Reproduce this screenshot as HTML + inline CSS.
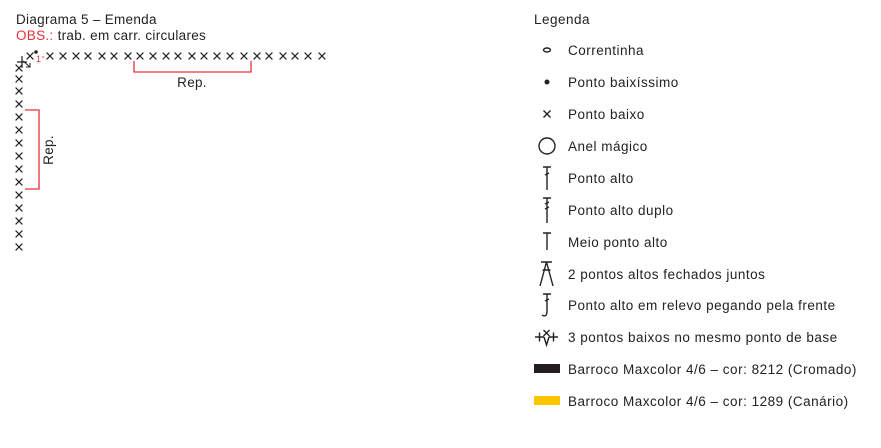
<!DOCTYPE html>
<html><head><meta charset="utf-8"><style>
html,body{margin:0;padding:0;background:#fff;}
svg{display:block;font-family:"Liberation Sans",sans-serif;}
</style></head><body>
<svg width="881" height="448" viewBox="0 0 881 448" xmlns="http://www.w3.org/2000/svg">
<defs>
<g id="x"><path d="M-3.4,-3.4L3.4,3.4M3.4,-3.4L-3.4,3.4" stroke="#222" stroke-width="1.2" fill="none"/></g>
</defs>
<g letter-spacing="0.3">
<text x="16" y="24" font-size="13.5" fill="#222">Diagrama 5 – Emenda</text>
<text x="16" y="40" font-size="13.5" fill="#222"><tspan fill="#e8303a">OBS.:</tspan> trab. em carr. circulares</text>
</g>

<path d="M17,62L27,62M22,56L22,68" stroke="#222" stroke-width="1.2"/>
<path d="M23,61L30,67M30,63L30,67L26,67" stroke="#222" stroke-width="1" fill="none"/>
<use href="#x" x="30" y="56"/>
<circle cx="36" cy="52" r="1.8" fill="#222"/>
<text x="36" y="62" font-size="9" fill="#e8303a">1</text>
<circle cx="43" cy="57" r="1" fill="#f08080"/>

<use href="#x" x="50" y="56"/><use href="#x" x="63" y="56"/><use href="#x" x="76" y="56"/>
<use href="#x" x="88" y="56"/><use href="#x" x="102" y="56"/><use href="#x" x="114" y="56"/>
<use href="#x" x="128" y="56"/><use href="#x" x="140" y="56"/><use href="#x" x="153" y="56"/>
<use href="#x" x="166" y="56"/><use href="#x" x="178" y="56"/><use href="#x" x="192" y="56"/>
<use href="#x" x="204" y="56"/><use href="#x" x="217" y="56"/><use href="#x" x="230" y="56"/>
<use href="#x" x="244" y="56"/><use href="#x" x="257" y="56"/><use href="#x" x="269" y="56"/>
<use href="#x" x="283" y="56"/><use href="#x" x="295" y="56"/><use href="#x" x="308" y="56"/>
<use href="#x" x="322" y="56"/>

<use href="#x" x="19" y="68"/><use href="#x" x="19" y="79"/><use href="#x" x="19" y="91"/>
<use href="#x" x="19" y="104"/><use href="#x" x="19" y="117"/><use href="#x" x="19" y="130"/>
<use href="#x" x="19" y="143"/><use href="#x" x="19" y="156"/><use href="#x" x="19" y="169"/>
<use href="#x" x="19" y="182"/><use href="#x" x="19" y="195"/><use href="#x" x="19" y="208"/>
<use href="#x" x="19" y="221"/><use href="#x" x="19" y="234"/><use href="#x" x="19" y="247"/>

<path d="M134,61L134,72L251,72L251,61" stroke="#e8303a" stroke-width="1.3" fill="none"/>
<text x="192" y="87" font-size="13.5" fill="#222" text-anchor="middle" letter-spacing="0.3">Rep.</text>
<path d="M25,110L39,110L39,189L25,189" stroke="#e8303a" stroke-width="1.3" fill="none"/>
<text transform="translate(53,150) rotate(-90)" font-size="13.5" fill="#222" text-anchor="middle" letter-spacing="0.3">Rep.</text>

<g font-size="13.5" fill="#222" letter-spacing="0.5">
<text x="534" y="24">Legenda</text>
<text x="568" y="55">Correntinha</text>
<text x="568" y="87">Ponto baixíssimo</text>
<text x="568" y="119">Ponto baixo</text>
<text x="568" y="151">Anel mágico</text>
<text x="568" y="183">Ponto alto</text>
<text x="568" y="215">Ponto alto duplo</text>
<text x="568" y="247">Meio ponto alto</text>
<text x="568" y="279">2 pontos altos fechados juntos</text>
<text x="568" y="310">Ponto alto em relevo pegando pela frente</text>
<text x="568" y="342">3 pontos baixos no mesmo ponto de base</text>
<text x="568" y="374">Barroco Maxcolor 4/6 – cor: 8212 (Cromado)</text>
<text x="568" y="406">Barroco Maxcolor 4/6 – cor: 1289 (Canário)</text>
</g>
<g stroke="#222" stroke-width="1.4" fill="none">
<ellipse cx="547" cy="50" rx="3.5" ry="2"/>
<circle cx="547" cy="82" r="2.5" fill="#222" stroke="none"/>
<path d="M543.5,110.5L550.5,117.5M550.5,110.5L543.5,117.5"/>
<circle cx="547" cy="146" r="8"/>
<path d="M543,167L551,167M547,167L547,190M545,175L549,173"/>
<path d="M543,198L551,198M547,198L547,223M545,204L549,202M545,209L549,207"/>
<path d="M543,233L551,233M547,233L547,250"/>
<path d="M541,262L552,262M546.5,262L540,286M546.5,262L553,286M542.5,270L550.5,270"/>
<path d="M543,294L551,294M547,294L547,311Q547,318 542,315M545,301L549,299"/>
<path d="M535,337L544,337M539.5,332.5L539.5,341.5M549,337L558,337M553.5,332.5L553.5,341.5M544,337L546.5,345L549,337M543.5,330L549.5,336M549.5,330L543.5,336"/>
</g>
<rect x="534" y="364" width="26" height="9" fill="#231f20"/>
<rect x="534" y="396" width="26" height="9" fill="#fdc600"/>
</svg>
</body></html>
